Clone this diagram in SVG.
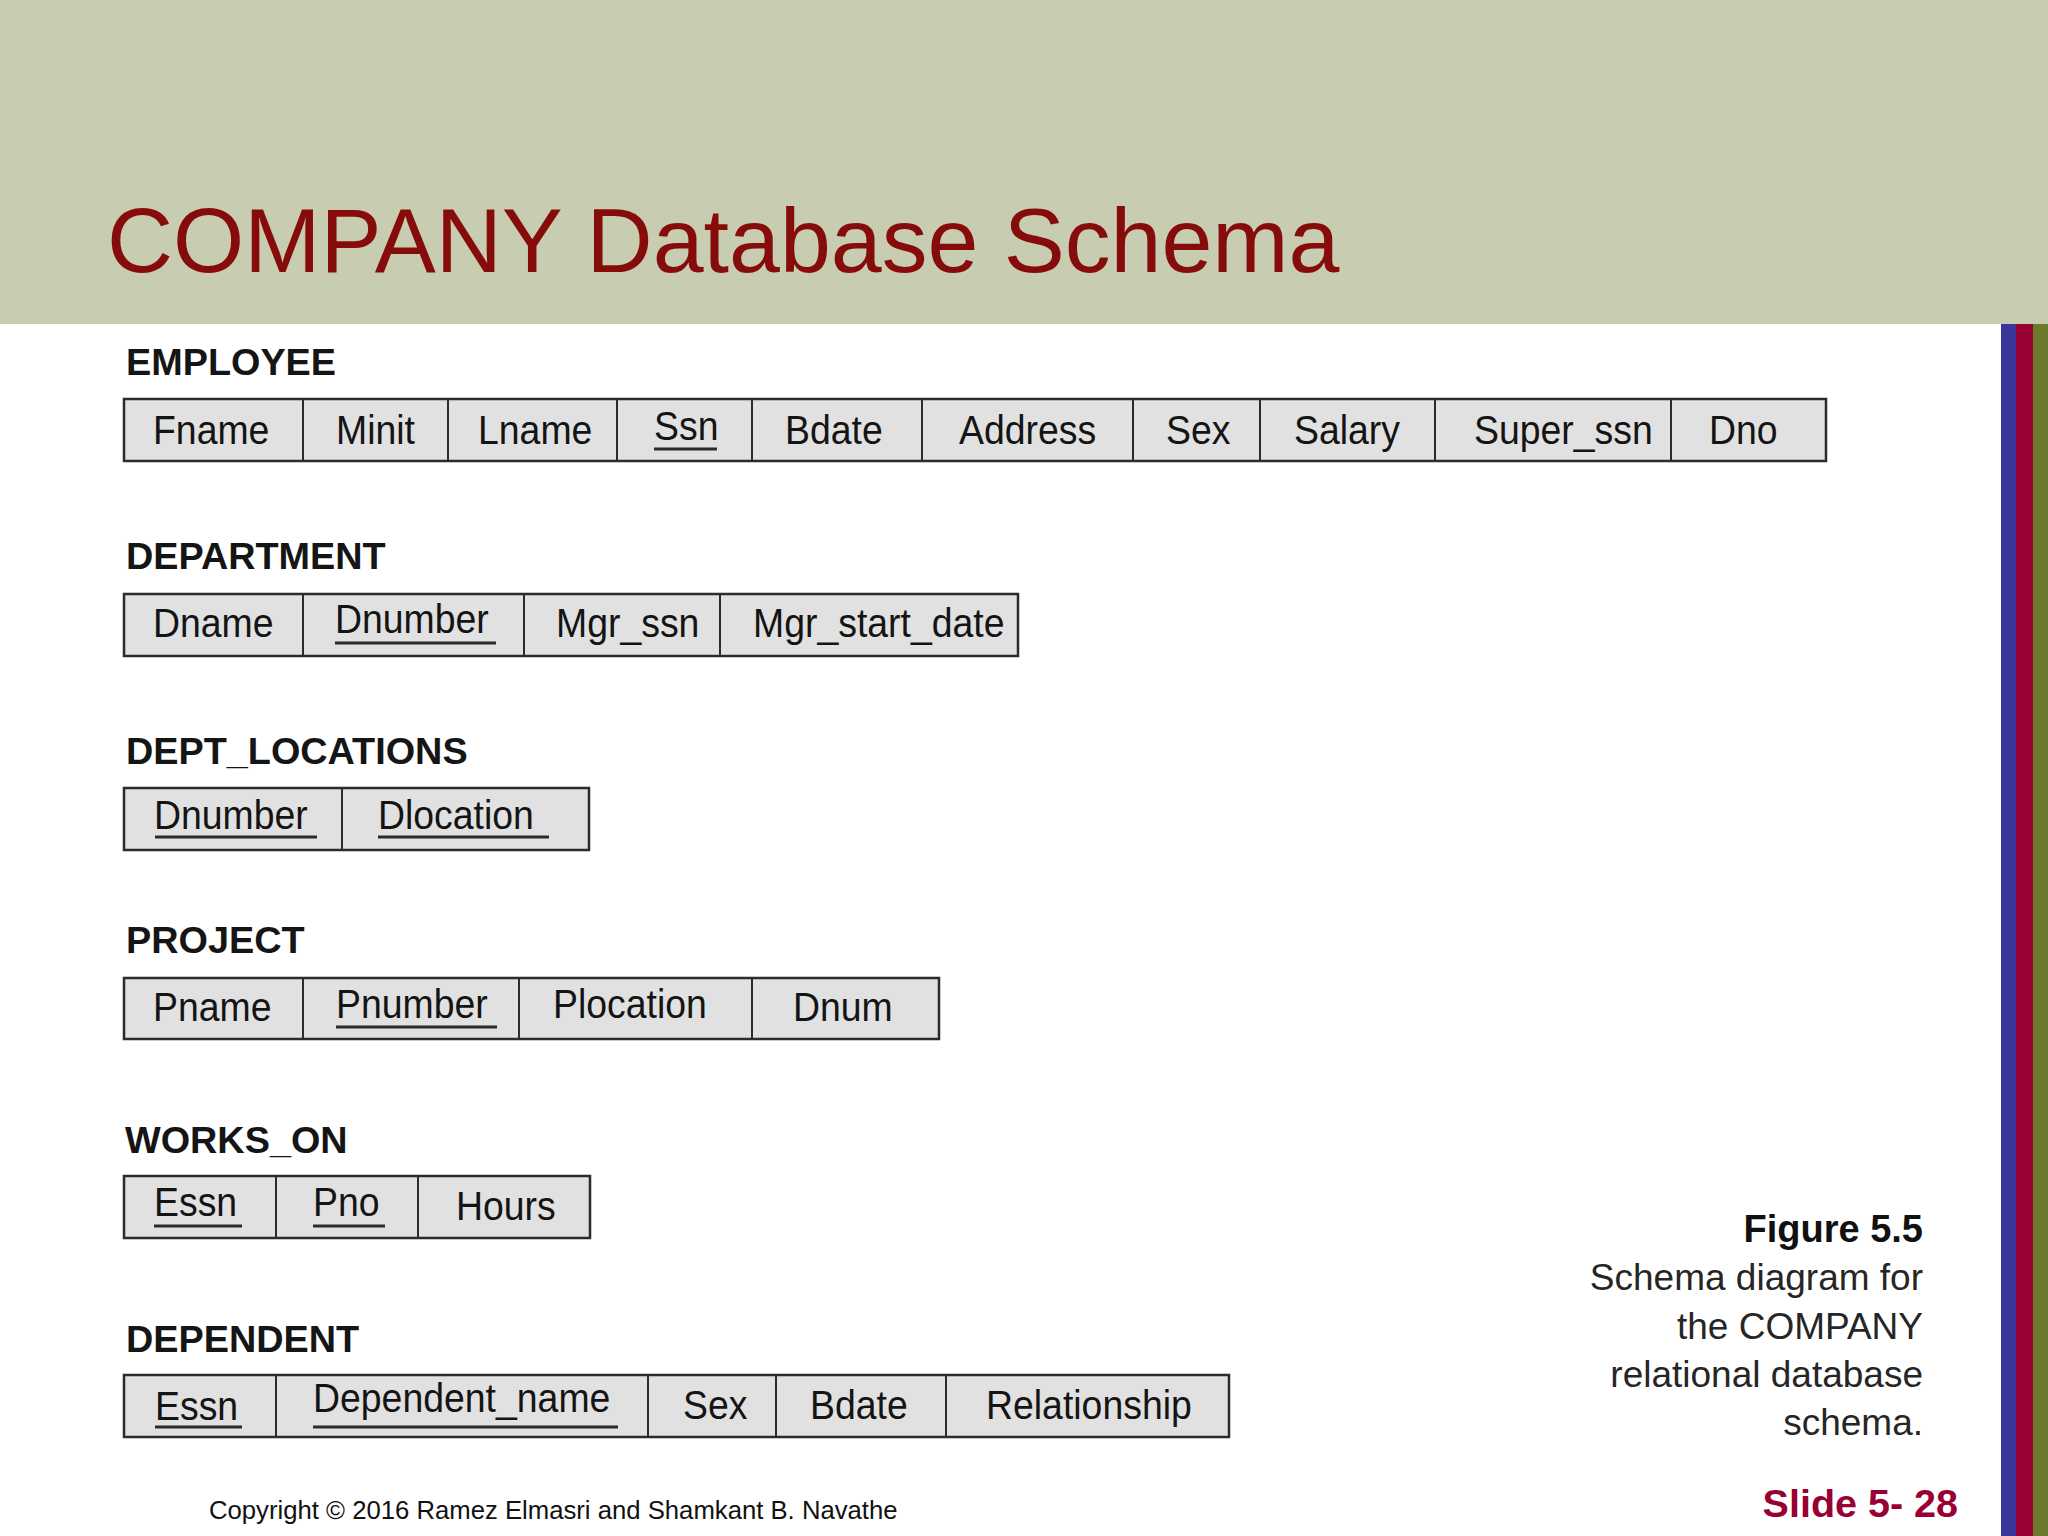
<svg xmlns="http://www.w3.org/2000/svg" width="2048" height="1536" viewBox="0 0 2048 1536">
<style>
.title{font-family:"Liberation Sans",Arial,sans-serif;font-size:91.5px;fill:#860b0b}
.lbl{font-family:"Liberation Sans",Arial,sans-serif;font-size:37.8px;font-weight:bold;fill:#151515}
.c{font-family:"Liberation Sans",Arial,sans-serif;font-size:40px;fill:#141414}
.box{fill:#e1e1e1;stroke:#2b2b2b;stroke-width:2.5}
.div{stroke:#2b2b2b;stroke-width:2}
.ul{stroke:#2b2b2b;stroke-width:3}
.cap{font-family:"Liberation Sans",Arial,sans-serif;font-size:37px;fill:#262626;text-anchor:end}
.capb{font-family:"Liberation Sans",Arial,sans-serif;font-size:38px;font-weight:bold;fill:#111;text-anchor:end}
.slide{font-family:"Liberation Sans",Arial,sans-serif;font-size:39.5px;font-weight:bold;fill:#990033;text-anchor:end}
.copy{font-family:"Liberation Sans",Arial,sans-serif;font-size:25.7px;fill:#111}
</style>
<rect x="0" y="0" width="2048" height="1536" fill="#ffffff"/>
<g id="header">
<rect x="0" y="0" width="2048" height="324" fill="#c8cdb1"/>
<text class="title" x="107" y="272">COMPANY Database Schema</text>
</g>
<g id="stripes">
<rect x="2001" y="324" width="15" height="1212" fill="#3a3699"/>
<rect x="2016" y="324" width="17" height="1212" fill="#990033"/>
<rect x="2033" y="324" width="15" height="1212" fill="#6b7a2b"/>
</g>

<g id="employee">
<text class="lbl" x="126" y="375">EMPLOYEE</text>
<rect class="box" x="124" y="399" width="1702" height="62"/>
<line class="div" x1="303" y1="399" x2="303" y2="461"/>
<line class="div" x1="448" y1="399" x2="448" y2="461"/>
<line class="div" x1="617" y1="399" x2="617" y2="461"/>
<line class="div" x1="752" y1="399" x2="752" y2="461"/>
<line class="div" x1="922" y1="399" x2="922" y2="461"/>
<line class="div" x1="1133" y1="399" x2="1133" y2="461"/>
<line class="div" x1="1260" y1="399" x2="1260" y2="461"/>
<line class="div" x1="1435" y1="399" x2="1435" y2="461"/>
<line class="div" x1="1671" y1="399" x2="1671" y2="461"/>
<text class="c" transform="translate(153 444) scale(0.935 1)">Fname</text>
<text class="c" transform="translate(336 444) scale(0.935 1)">Minit</text>
<text class="c" transform="translate(478 444) scale(0.935 1)">Lname</text>
<text class="c" transform="translate(654 440) scale(0.935 1)">Ssn</text>
<line class="ul" x1="654" y1="449" x2="717" y2="449"/>
<text class="c" transform="translate(785 444) scale(0.935 1)">Bdate</text>
<text class="c" transform="translate(959 444) scale(0.935 1)">Address</text>
<text class="c" transform="translate(1166 444) scale(0.935 1)">Sex</text>
<text class="c" transform="translate(1294 444) scale(0.935 1)">Salary</text>
<text class="c" transform="translate(1474 444) scale(0.935 1)">Super_ssn</text>
<text class="c" transform="translate(1709 444) scale(0.935 1)">Dno</text>
</g>

<g id="department">
<text class="lbl" x="126" y="569">DEPARTMENT</text>
<rect class="box" x="124" y="594" width="894" height="62"/>
<line class="div" x1="303" y1="594" x2="303" y2="656"/>
<line class="div" x1="524" y1="594" x2="524" y2="656"/>
<line class="div" x1="720" y1="594" x2="720" y2="656"/>
<text class="c" transform="translate(153 637) scale(0.935 1)">Dname</text>
<text class="c" transform="translate(335 633) scale(0.935 1)">Dnumber</text>
<line class="ul" x1="335" y1="643" x2="496" y2="643"/>
<text class="c" transform="translate(556 637) scale(0.935 1)">Mgr_ssn</text>
<text class="c" transform="translate(753 637) scale(0.935 1)">Mgr_start_date</text>
</g>

<g id="dept_locations">
<text class="lbl" x="126" y="764">DEPT_LOCATIONS</text>
<rect class="box" x="124" y="788" width="465" height="62"/>
<line class="div" x1="342" y1="788" x2="342" y2="850"/>
<text class="c" transform="translate(154 829) scale(0.935 1)">Dnumber</text>
<line class="ul" x1="155" y1="837" x2="317" y2="837"/>
<text class="c" transform="translate(378 829) scale(0.935 1)">Dlocation</text>
<line class="ul" x1="378" y1="837" x2="549" y2="837"/>
</g>

<g id="project">
<text class="lbl" x="126" y="953">PROJECT</text>
<rect class="box" x="124" y="978" width="815" height="61"/>
<line class="div" x1="303" y1="978" x2="303" y2="1039"/>
<line class="div" x1="519" y1="978" x2="519" y2="1039"/>
<line class="div" x1="752" y1="978" x2="752" y2="1039"/>
<text class="c" transform="translate(153 1021) scale(0.935 1)">Pname</text>
<text class="c" transform="translate(336 1018) scale(0.935 1)">Pnumber</text>
<line class="ul" x1="336" y1="1027" x2="497" y2="1027"/>
<text class="c" transform="translate(553 1018) scale(0.935 1)">Plocation</text>
<text class="c" transform="translate(793 1021) scale(0.935 1)">Dnum</text>
</g>

<g id="works_on">
<text class="lbl" x="125" y="1153">WORKS_ON</text>
<rect class="box" x="124" y="1176" width="466" height="62"/>
<line class="div" x1="276" y1="1176" x2="276" y2="1238"/>
<line class="div" x1="418" y1="1176" x2="418" y2="1238"/>
<text class="c" transform="translate(154 1216) scale(0.935 1)">Essn</text>
<line class="ul" x1="154" y1="1226" x2="242" y2="1226"/>
<text class="c" transform="translate(313 1216) scale(0.935 1)">Pno</text>
<line class="ul" x1="313" y1="1226" x2="385" y2="1226"/>
<text class="c" transform="translate(456 1220) scale(0.935 1)">Hours</text>
</g>

<g id="dependent">
<text class="lbl" x="126" y="1352">DEPENDENT</text>
<rect class="box" x="124" y="1375" width="1105" height="62"/>
<line class="div" x1="276" y1="1375" x2="276" y2="1437"/>
<line class="div" x1="648" y1="1375" x2="648" y2="1437"/>
<line class="div" x1="776" y1="1375" x2="776" y2="1437"/>
<line class="div" x1="946" y1="1375" x2="946" y2="1437"/>
<text class="c" transform="translate(155 1420) scale(0.935 1)">Essn</text>
<line class="ul" x1="155" y1="1427" x2="242" y2="1427"/>
<text class="c" transform="translate(313 1412) scale(0.935 1)">Dependent_name</text>
<line class="ul" x1="313" y1="1427" x2="618" y2="1427"/>
<text class="c" transform="translate(683 1419) scale(0.935 1)">Sex</text>
<text class="c" transform="translate(810 1419) scale(0.935 1)">Bdate</text>
<text class="c" transform="translate(986 1419) scale(0.935 1)">Relationship</text>
</g>

<g id="connectors"/>

<g id="caption">
<text class="capb" x="1923" y="1242">Figure 5.5</text>
<text class="cap" x="1923" y="1290">Schema diagram for</text>
<text class="cap" x="1923" y="1339">the COMPANY</text>
<text class="cap" x="1923" y="1387">relational database</text>
<text class="cap" x="1923" y="1435">schema.</text>
</g>
<g id="footer">
<text class="copy" x="209" y="1519">Copyright © 2016 Ramez Elmasri and Shamkant B. Navathe</text>
<text class="slide" x="1958" y="1517">Slide 5- 28</text>
</g>
</svg>
